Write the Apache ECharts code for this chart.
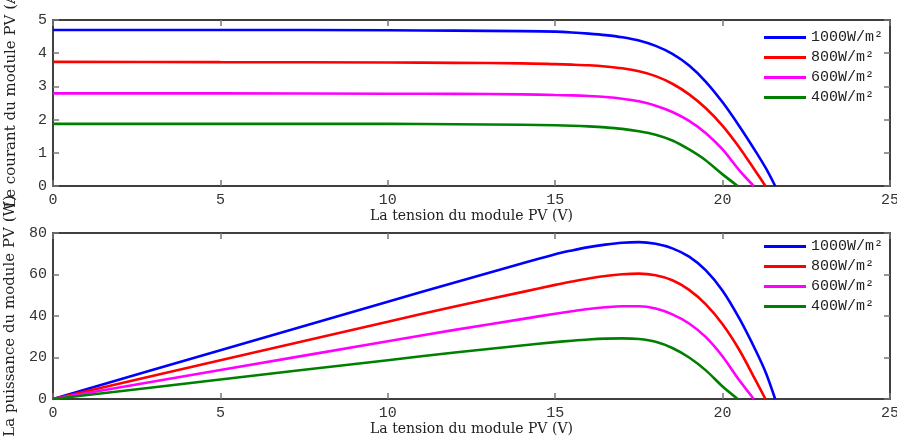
<!DOCTYPE html>
<html>
<head>
<meta charset="utf-8">
<script src="https://cdn.jsdelivr.net/npm/echarts@6/dist/echarts.min.js"></script>
<style>
  html, body { margin: 0; padding: 0; background: #fff; }
  #main { width: 897px; height: 441px; }
</style>
</head>
<body>
<div id="main"></div>
<script>
// irradiance levels (legend)
var names = ['1000W/m\u00b2', '800W/m\u00b2', '600W/m\u00b2', '400W/m\u00b2'];
var colors = ['#0000ff', '#ff0000', '#ff00ff', '#008000'];

// voltage (V), current (A) and power (W)
var v1000 = [0, 5, 10, 12, 14, 15, 15.5, 16, 16.5, 17, 17.5, 18, 18.5, 19, 19.5, 20, 20.5, 21, 21.3, 21.57];
var i1000 = [4.70, 4.70, 4.69, 4.68, 4.665, 4.65, 4.625, 4.59, 4.545, 4.48, 4.38, 4.22, 3.98, 3.63, 3.14, 2.52, 1.80, 1.02, 0.52, 0];
var p1000 = [0, 23.5, 46.9, 56.2, 65.3, 69.8, 71.6, 73.2, 74.4, 75.3, 75.6, 74.8, 72.6, 68.6, 62.0, 52.2, 38.8, 23.0, 12.3, 0];

var v800 = [0, 5, 10, 12, 14, 15, 15.5, 16, 16.5, 17, 17.5, 18, 18.5, 19, 19.5, 20, 20.5, 21, 21.28];
var i800 = [3.74, 3.73, 3.72, 3.71, 3.695, 3.67, 3.655, 3.635, 3.60, 3.545, 3.455, 3.31, 3.08, 2.76, 2.34, 1.81, 1.16, 0.42, 0];
var p800 = [0, 18.7, 37.2, 44.6, 51.5, 55.0, 56.6, 58.1, 59.3, 60.1, 60.4, 59.6, 57.2, 52.6, 45.6, 36.0, 23.6, 8.6, 0];

var v600 = [0, 5, 10, 12, 14, 15, 15.5, 16, 16.5, 17, 17.5, 18, 18.5, 19, 19.5, 20, 20.5, 20.93];
var i600 = [2.79, 2.79, 2.78, 2.775, 2.76, 2.74, 2.73, 2.71, 2.68, 2.63, 2.55, 2.42, 2.23, 1.96, 1.59, 1.10, 0.47, 0];
var p600 = [0, 14.0, 27.8, 33.3, 38.5, 41.1, 42.3, 43.4, 44.2, 44.7, 44.7, 43.6, 40.8, 36.4, 29.8, 20.5, 9.0, 0];

var v400 = [0, 5, 10, 12, 14, 15, 15.5, 16, 16.5, 17, 17.5, 18, 18.5, 19, 19.5, 20, 20.45];
var i400 = [1.87, 1.87, 1.87, 1.86, 1.845, 1.83, 1.815, 1.795, 1.765, 1.72, 1.65, 1.545, 1.37, 1.10, 0.77, 0.35, 0];
var p400 = [0, 9.4, 18.7, 22.4, 25.8, 27.4, 28.1, 28.7, 29.1, 29.2, 28.9, 27.6, 24.6, 20.0, 13.8, 6.0, 0];

var volts = [v1000, v800, v600, v400];
var amps = [i1000, i800, i600, i400];
var watts = [p1000, p800, p600, p400];

var monoFont = '"Liberation Mono", "DejaVu Sans Mono", monospace';
var serifFont = '"DejaVu Serif", "Liberation Serif", serif';

function pairs(xs, ys) {
    return xs.map(function (x, k) { return [x, ys[k]]; });
}

function xAxisFor(grid, top) {
    return {
        type: 'value',
        gridIndex: grid,
        position: top ? 'top' : 'bottom',
        min: 0, max: 25, interval: 5,
        name: top ? '' : 'La tension du module PV (V)',
        nameLocation: 'middle',
        nameGap: 21,
        nameTextStyle: { fontFamily: serifFont, fontSize: 14, color: '#222' },
        axisLine: { show: true, onZero: false, lineStyle: { color: '#000', width: 1.5 } },
        axisTick: { show: true, inside: true, length: 6, lineStyle: { color: '#777', width: 1.5 } },
        axisLabel: { show: !top, margin: 7, fontFamily: monoFont, fontSize: 15, color: '#333' },
        splitLine: { show: false }
    };
}

function yAxisFor(grid, right, max, step, title, pad) {
    return {
        type: 'value',
        gridIndex: grid,
        position: right ? 'right' : 'left',
        min: 0, max: max, interval: step,
        name: right ? '' : title,
        nameLocation: 'middle',
        nameGap: 34,
        nameTextStyle: { fontFamily: serifFont, fontSize: 15, color: '#222', padding: pad || 0 },
        axisLine: { show: true, onZero: false, lineStyle: { color: '#000', width: 1.5 } },
        axisTick: { show: true, inside: true, length: 6, lineStyle: { color: '#777', width: 1.5 } },
        axisLabel: { show: !right, margin: 6, fontFamily: monoFont, fontSize: 15, color: '#333' },
        splitLine: { show: false }
    };
}

function legendAt(top) {
    return {
        left: 764,
        top: top,
        orient: 'vertical',
        padding: 0,
        itemGap: 5,
        itemWidth: 42,
        itemHeight: 3,
        icon: 'rect',
        textStyle: { fontFamily: monoFont, fontSize: 15, color: '#222', lineHeight: 14 },
        data: names
    };
}

var series = [];
names.forEach(function (n, k) {
    series.push({
        name: n, type: 'line', xAxisIndex: 0, yAxisIndex: 0,
        data: pairs(volts[k], amps[k]), smooth: 0.3, showSymbol: false,
        lineStyle: { color: colors[k], width: 2.6 }, itemStyle: { color: colors[k] }
    });
    series.push({
        name: n, type: 'line', xAxisIndex: 1, yAxisIndex: 1,
        data: pairs(volts[k], watts[k]), smooth: 0.3, showSymbol: false,
        lineStyle: { color: colors[k], width: 2.6 }, itemStyle: { color: colors[k] }
    });
});

var myChart = echarts.init(document.getElementById('main'));
var option = {
    animation: false,
    backgroundColor: '#fff',
    grid: [
        { left: 53, right: 7, top: 20, height: 166, containLabel: false, outerBoundsMode: 'none' },
        { left: 53, right: 7, top: 233, height: 166, containLabel: false, outerBoundsMode: 'none' }
    ],
    legend: [legendAt(30), legendAt(239)],
    xAxis: [xAxisFor(0, false), xAxisFor(1, false), xAxisFor(0, true), xAxisFor(1, true)],
    yAxis: [
        yAxisFor(0, false, 5, 1, 'Le courant du module PV (A)', [0, 0, 0, 11]),
        yAxisFor(1, false, 80, 20, 'La puissance du module PV (W)'),
        yAxisFor(0, true, 5, 1, ''),
        yAxisFor(1, true, 80, 20, '')
    ],
    series: series
};

myChart.setOption(option);
</script>
</body>
</html>
